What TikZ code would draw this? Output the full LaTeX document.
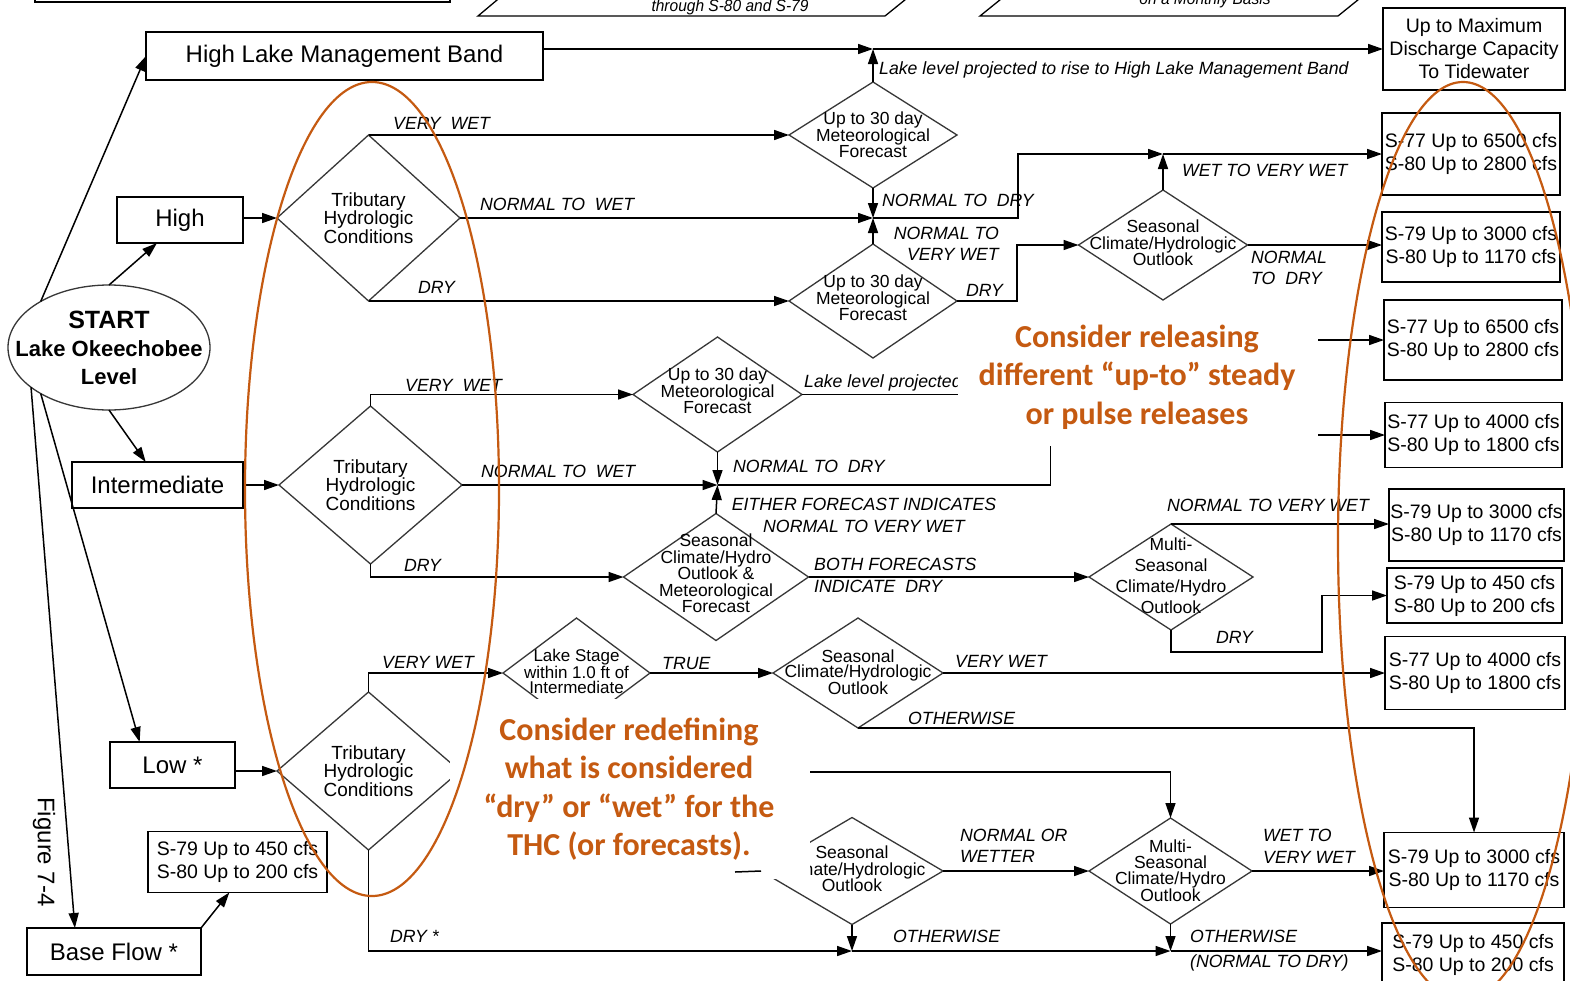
\documentclass[tikz,border=0pt]{standalone}
\usepackage{fontspec}
\setmainfont{Liberation Sans}
\newfontfamily\calib{Carlito}
\usetikzlibrary{shapes.geometric,arrows.meta}
\definecolor{annor}{RGB}{197,90,17}
\definecolor{dgray}{RGB}{55,55,55}
\begin{document}
\begin{tikzpicture}[x=1pt,y=-1pt,
 box/.style={draw, line width=1.5pt, inner sep=0pt, outer sep=0pt, align=center},
 lbox/.style={box, font=\fontsize{24}{28}\selectfont},
 rbox/.style={box, font=\fontsize{19.5}{23}\selectfont},
 dia/.style={diamond, draw=dgray, line width=1.3pt, inner sep=0pt, outer sep=0pt},
 dtxt/.style={font=\fontsize{17.5}{16.5}\selectfont, align=center, inner sep=0pt},
 ttxt/.style={font=\fontsize{19}{17}\selectfont, align=center, inner sep=0pt},
 stxt/.style={font=\fontsize{22}{28}\selectfont\bfseries, align=center, inner sep=0pt},
 lab/.style={font=\fontsize{17.7}{21.5}\selectfont\itshape, inner sep=0pt, anchor=west},
 arr/.style={line width=1.5pt, -{Triangle[length=15pt,width=10pt]}},
 ln/.style={line width=1.5pt},
 note/.style={font=\calib\bfseries\fontsize{32}{38.5}\selectfont, text=annor, align=center, inner sep=0pt},
 orell/.style={draw=annor, line width=2.2pt},
 toptxt/.style={font=\fontsize{16.5}{18}\selectfont\itshape, inner sep=0pt}
]
\useasboundingbox (0,0) rectangle (1570,980);
\clip (0,0) rectangle (1570,980);
\fill[white] (0,0) rectangle (1570,980);

% partial shapes at the top edge
\draw[ln] (35,-20) rectangle (450,2);
\draw[line width=1.3pt] (503,-5) -- (478,16) -- (885,16) -- (911,-5);
\draw[line width=1.3pt] (1006,-5) -- (980,16) -- (1338,16) -- (1364,-5);
\node[toptxt] (ptx1) at (730,7) {\scalebox{0.94}[1]{through S-80 and S-79}};
\node[toptxt] (ptx2) at (1205,0) {\scalebox{0.94}[1]{on a Monthly Basis}};

% boxes
\node[lbox, minimum width=397, minimum height=48] (hlmb) at (344.5,56) {High Lake Management Band};
\node[rbox, minimum width=182, minimum height=82] (upmax) at (1474,49) {Up to Maximum\\Discharge Capacity\\To Tidewater};
\node[lbox, minimum width=126, minimum height=46] (high) at (180,220) {High};
\node[lbox, minimum width=171, minimum height=46] (inter) at (157.5,485) {Intermediate};
\node[lbox, minimum width=125, minimum height=46] (low) at (172.5,765) {Low *};
\node[lbox, minimum width=174, minimum height=47] (base) at (114,951.5) {Base Flow *};
\node[rbox, minimum width=179, minimum height=61] (sb) at (237.5,862) {S-79 Up to 450 cfs\\S-80 Up to 200 cfs};

\node[rbox, minimum width=178, minimum height=82] (r1) at (1471,154) {S-77 Up to 6500 cfs\\S-80 Up to 2800 cfs};
\node[rbox, minimum width=178, minimum height=70] (r2) at (1471,247) {S-79 Up to 3000 cfs\\S-80 Up to 1170 cfs};
\node[rbox, minimum width=178, minimum height=80] (r3) at (1473,340) {S-77 Up to 6500 cfs\\S-80 Up to 2800 cfs};
\node[rbox, minimum width=177, minimum height=65] (r4) at (1473.5,435) {S-77 Up to 4000 cfs\\S-80 Up to 1800 cfs};
\node[rbox, minimum width=175, minimum height=72] (r5) at (1476.5,525) {S-79 Up to 3000 cfs\\S-80 Up to 1170 cfs};
\node[rbox, minimum width=175, minimum height=55] (r6) at (1474.5,595.5) {S-79 Up to 450 cfs\\S-80 Up to 200 cfs};
\node[rbox, minimum width=180, minimum height=73] (r7) at (1475,673) {S-77 Up to 4000 cfs\\S-80 Up to 1800 cfs};
\node[rbox, minimum width=180, minimum height=75] (r8) at (1474,870) {S-79 Up to 3000 cfs\\S-80 Up to 1170 cfs};
\node[rbox, minimum width=182, minimum height=64] (r9) at (1473,955) {S-79 Up to 450 cfs\\S-80 Up to 200 cfs};

% start
\node[ellipse, draw=dgray, line width=1.3pt, minimum width=202, minimum height=125, inner sep=0pt, outer sep=0pt,
  label={[stxt]center:{\fontsize{25}{30}\selectfont START}\\Lake Okeechobee\\Level}] (start) at (109,347.5) {};
\node[rotate=-90, font=\fontsize{24}{28}\selectfont, inner sep=0pt] (fig) at (44,852) {Figure 7-4};

% diamonds
\node[dia, minimum width=183, minimum height=166, label={[ttxt]center:Tributary\\Hydrologic\\Conditions}] (thc1) at (368.5,218) {};
\node[dia, minimum width=183, minimum height=158, label={[ttxt]center:Tributary\\Hydrologic\\Conditions}] (thc2) at (370.5,485) {};
\node[dia, minimum width=183, minimum height=158, label={[ttxt]center:Tributary\\Hydrologic\\Conditions}] (thc3) at (368.5,771) {};
\node[dia, minimum width=168, minimum height=106, label={[dtxt]center:Up to 30 day\\Meteorological\\Forecast}] (met1) at (873,135) {};
\node[dia, minimum width=168, minimum height=114, label={[dtxt,yshift=3pt]center:Up to 30 day\\Meteorological\\Forecast}] (met2) at (873,301) {};
\node[dia, minimum width=169, minimum height=110, label={[dtxt,yshift=2pt]center:Seasonal\\Climate/Hydrologic\\Outlook}] (sea1) at (1163,245) {};
\node[dia, minimum width=169, minimum height=115, label={[dtxt,yshift=3.5pt]center:Up to 30 day\\Meteorological\\Forecast}] (met3) at (717.5,394.5) {};
\node[dia, minimum width=185, minimum height=127, label={[dtxt,yshift=3.5pt]center:Seasonal\\Climate/Hydro\\Outlook \&\\Meteorological\\Forecast}] (sm) at (716,577) {};
\node[dia, minimum width=164, minimum height=106, label={[dtxt,font=\fontsize{17.5}{21}\selectfont,yshift=1.5pt]center:Multi-\\Seasonal\\Climate/Hydro\\Outlook}] (ms1) at (1171,577) {};
\node[dia, minimum width=147, minimum height=110, label={[dtxt,font=\fontsize{17}{14.5}\selectfont,yshift=1.5pt]center:Lake Stage\\within 1.0 ft of\\Intermediate}] (ls) at (576.5,673) {};
\node[dia, minimum width=170, minimum height=110, label={[dtxt,font=\fontsize{17.5}{15}\selectfont,yshift=1pt]center:Seasonal\\Climate/Hydrologic\\Outlook}] (sea2) at (858,673) {};
\node[dia, minimum width=182, minimum height=107, label={[dtxt,yshift=2pt]center:Seasonal\\Climate/Hydrologic\\Outlook}] (sea3) at (852,871) {};
\node[dia, minimum width=163, minimum height=106, label={[dtxt,font=\fontsize{17.5}{16}\selectfont]center:Multi-\\Seasonal\\Climate/Hydro\\Outlook}] (ms2) at (1170.5,871) {};

% junctions and free ends
\coordinate (j0) at (873,49);
\coordinate (j1) at (873,218);
\coordinate (j2) at (1163,154);
\coordinate (j3) at (717.5,485);
\coordinate (j4) at (852,951);
\coordinate (j5) at (1170.5,951);
\coordinate (c3) at (1250,340);
\coordinate (c4) at (1250,435);
\coordinate (c6) at (1322,595.5);
\coordinate (c7) at (700,772);
\coordinate (c8) at (735,872);

% connectors from start
\draw[arr] (start.146) -- (hlmb.west);
\draw[arr] (start.north) -- (high.225);
\draw[arr] (start.south) -- (inter.117);
\draw[arr] (start.214) -- (low.145);
\draw[arr] (start.207) -- (base.149);
\draw[arr] (base.north east) -- (sb.255);

% high branch
\draw[arr] (high.east |- thc1.west) -- (thc1.west);
\draw[arr] (hlmb.east |- j0) -- (j0);
\draw[arr] (j0) -- (upmax.west);
\draw[arr] (met1.north) -- (j0);
\draw[arr] (thc1.north) -- (met1.west);
\draw[arr] (thc1.east) -- (j1);
\draw[arr] (met1.south) -- (j1);
\draw[arr] (met2.north) -- (j1);
\draw[arr] (thc1.south) -- (met2.west);
\draw[arr] (j1) -- ++(145,0) |- (j2);
\draw[arr] (sea1.north) -- (j2);
\draw[arr] (j2) -- (r1.west);
\draw[arr] (met2.east) -- ++(60,0) |- (sea1.west);
\draw[arr] (sea1.east) -- (sea1.east -| r2.west);

% intermediate branch
\draw[arr] (inter.east) -- (thc2.west);
\draw[arr] (thc2.north) |- (met3.west);
\draw[ln] (met3.east) -- ++(230,0);
\draw[arr] (met3.south) -- (j3);
\draw[arr] (thc2.east) -- (j3);
\draw[arr] (sm.north) -- (j3);
\draw[ln] (j3) -- ++(333,0) -- ++(0,-60);
\draw[arr] (thc2.south) |- (sm.west);
\draw[arr] (sm.east) -- (ms1.west);
\draw[arr] (ms1.north) -- (ms1.north -| r5.west);
\draw[arr] (ms1.south) -- ++(0,22) -| (c6) -- (r6.west);
\draw[arr] (c3) -- (c3 -| r3.west);
\draw[arr] (c4) -- (r4.west);

% low branch
\draw[arr] (low.east |- thc3.west) -- (thc3.west);
\draw[arr] (thc3.north) |- (ls.west);
\draw[arr] (ls.east) -- (sea2.west);
\draw[arr] (sea2.east) -- (sea2.east -| r7.west);
\draw[arr] (sea2.south) -| (r8.north);
\draw[arr] (c7) -| (ms2.north);
\draw[arr] (sea3.east) -- (ms2.west);
\draw[arr] (ms2.east) -- (ms2.east -| r8.west);
\draw[arr] (sea3.south) -- (j4);
\draw[arr] (ms2.south) -- (j5);
\draw[arr] (thc3.south) |- (j4);
\draw[arr] (j4) -- (j5);
\draw[arr] (j5) -- (j5 -| r9.west);

% labels
\node[lab] (l1) at (393,123) {VERY\ \ WET};
\node[lab] (l2) at (480,204) {NORMAL TO\ \ WET};
\node[lab] (l3) at (418,287) {DRY};
\node[lab] (l4) at (882,200) {NORMAL TO\ \ DRY};
\node[lab, align=right, anchor=east] (l5) at (999,244) {NORMAL TO\\VERY WET};
\node[lab] (l6) at (966,290) {DRY};
\node[lab] (l7) at (1182,170) {WET TO VERY WET};
\node[lab, align=left] (l8) at (1251,268) {NORMAL\\TO\ \ DRY};
\node[lab] (l9) at (879,70) {Lake level projected to rise to High Lake Management Band};
\node[lab] (l10) at (405,385) {VERY\ \ WET};
\node[lab] (l11) at (481,471) {NORMAL TO\ \ WET};
\node[lab] (l12) at (404,565) {DRY};
\begin{scope}
\clip (790,360) rectangle (958,405);
\node[lab] (l13) at (804,383) {Lake level projected};
\end{scope}
\node[lab] (l14) at (733,466) {NORMAL TO\ \ DRY};
\node[lab, align=center, anchor=center] (l15) at (864,515.5) {EITHER FORECAST INDICATES\\NORMAL TO VERY WET};
\node[lab, align=left] (l16) at (814,575.5) {BOTH FORECASTS\\INDICATE\ \ DRY};
\node[lab] (l17) at (1167,505) {NORMAL TO VERY WET};
\node[lab] (l18) at (1216,637) {DRY};
\node[lab] (l19) at (382,662) {VERY WET};
\node[lab] (l20) at (662,663) {TRUE};
\node[lab] (l21) at (955,661) {VERY WET};
\node[lab] (l22) at (908,718) {OTHERWISE};
\node[lab, align=left] (l23) at (960,846) {NORMAL OR\\WETTER};
\node[lab, align=left] (l24) at (1263,846.5) {WET TO\\VERY WET};
\node[lab] (l25) at (893,936) {OTHERWISE};
\node[lab, align=left] (l26) at (1190,950.5) {OTHERWISE\\[3.5pt](NORMAL TO DRY)};
\node[lab] (l27) at (390,936) {DRY *};

% annotation overlays
\fill[white] (958,318) rectangle (1318,446);
\node[note] (n1) at (1137,377) {Consider releasing\\different “up-to” steady\\or pulse releases};
\fill[white] (450,699) rectangle (810,879);
\node[note] (n2) at (629,789) {Consider redefining\\what is considered\\“dry” or “wet” for the\\THC (or forecasts).};
\draw[ln] (c8) -- (sea3.west);

\draw[orell] (372,489) ellipse [x radius=127, y radius=407];
\draw[orell] (1463,541) ellipse [x radius=125, y radius=459];
\end{tikzpicture}
\end{document}
